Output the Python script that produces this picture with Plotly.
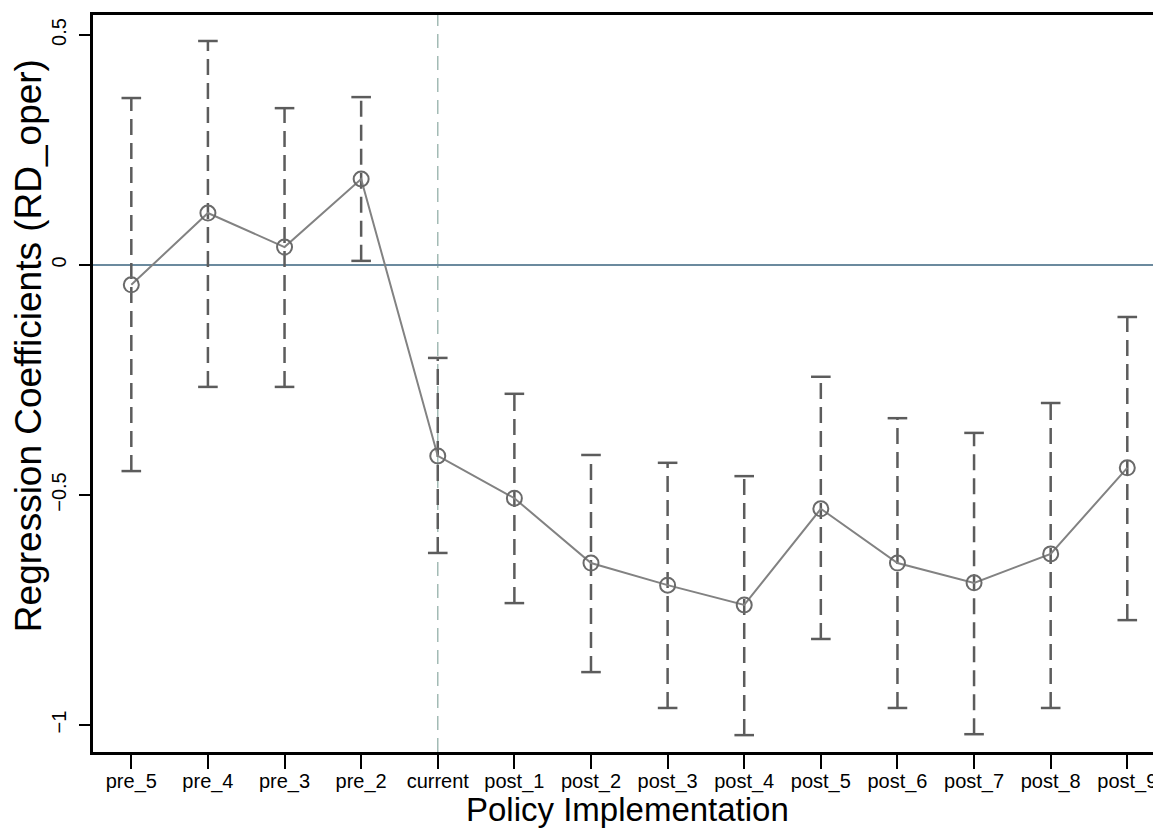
import plotly.graph_objects as go

categories = ["pre_5", "pre_4", "pre_3", "pre_2", "current", "post_1", "post_2",
              "post_3", "post_4", "post_5", "post_6", "post_7", "post_8", "post_9"]
coef = [-0.043, 0.113, 0.039, 0.187, -0.415, -0.507, -0.648,
        -0.696, -0.739, -0.530, -0.648, -0.691, -0.628, -0.441]
ci_upper = [0.363, 0.487, 0.341, 0.365, -0.202, -0.280, -0.413,
            -0.430, -0.459, -0.243, -0.333, -0.365, -0.300, -0.113]
ci_lower = [-0.448, -0.265, -0.265, 0.009, -0.626, -0.735, -0.885,
            -0.963, -1.022, -0.813, -0.963, -1.020, -0.963, -0.772]
y_ticks = [0.5, 0, -0.5, -1]
y_tick_labels = ["0.5", "0", "\u22120.5", "\u22121"]

err_x, err_y = [], []
for c, lo, hi in zip(categories, ci_lower, ci_upper):
    err_x += [c, c, None]
    err_y += [lo, hi, None]

fig = go.Figure()
fig.add_trace(go.Scatter(
    x=err_x, y=err_y, mode="lines",
    line=dict(color="#5c5c5c", width=2.5, dash="16px,8px"),
    hoverinfo="skip"))
fig.add_trace(go.Scatter(
    x=categories + categories, y=ci_lower + ci_upper, mode="markers",
    marker=dict(symbol="line-ew", size=14, line=dict(color="#5c5c5c", width=2.5)),
    hoverinfo="skip"))
fig.add_trace(go.Scatter(
    x=categories, y=coef, mode="lines+markers",
    line=dict(color="#828282", width=2),
    marker=dict(symbol="circle-open", size=15, color="#6a6a6a", line=dict(width=2))))

fig.add_shape(type="line", xref="x", yref="paper", x0="current", x1="current", y0=0, y1=1,
              line=dict(color="#a3bbb5", width=1.5, dash="14px,8px"), layer="below")
fig.add_shape(type="line", xref="paper", yref="y", x0=0, x1=1, y0=0, y1=0,
              line=dict(color="#6b8a9e", width=2), layer="below")

# page body has an 8px margin; plot area spans page x 93..1161, y 15..752
fig.add_annotation(text="Policy Implementation", xref="paper", yref="paper",
                   x=0.5, y=-0.0780, xanchor="center", yanchor="middle",
                   showarrow=False, font=dict(size=33, color="black"))
fig.add_annotation(text="Regression Coefficients (RD_oper)", xref="paper", yref="paper",
                   x=-0.0609, y=0.552, xanchor="center", yanchor="middle", textangle=-90,
                   showarrow=False, font=dict(size=37, color="black"))

fig.update_layout(
    width=1153, height=820,
    margin=dict(l=85, r=0, t=7, b=76),
    plot_bgcolor="white", paper_bgcolor="white",
    showlegend=False,
    font=dict(family="Liberation Sans, Arial, sans-serif", color="black"),
)
fig.update_xaxes(
    type="category", range=[-0.5, 13.44], automargin=False,
    showline=True, linecolor="black", linewidth=2.5, mirror=True,
    ticks="outside", ticklen=14, tickwidth=2, tickcolor="black",
    tickfont=dict(size=20, color="black"), ticklabelstandoff=-5,
    showgrid=False, zeroline=False,
)
fig.update_yaxes(
    range=[-1.0587, 0.5435], automargin=False,
    tickvals=y_ticks, ticktext=y_tick_labels, tickangle=-90,
    ticks="outside", ticklen=11, tickwidth=2, tickcolor="black",
    tickfont=dict(size=20, color="black"), ticklabelstandoff=5,
    showline=True, linecolor="black", linewidth=2.5,
    showgrid=False, zeroline=False,
)

fig.write_html("out.html")
